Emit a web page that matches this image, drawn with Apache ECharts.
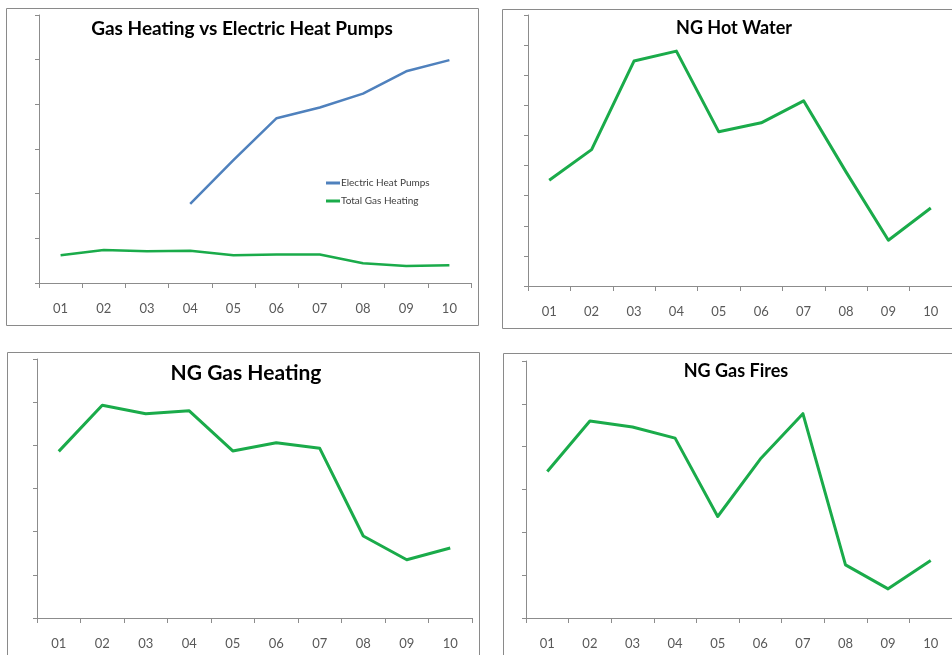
<!DOCTYPE html>
<html>
<head>
<meta charset="utf-8">
<script src="https://cdn.jsdelivr.net/npm/echarts@6/dist/echarts.min.js"></script>
<style>
	html,body{margin:0;padding:0;background:#fff;}
	#page{width:952px;height:655px;}
</style>
</head>
<body>
<div id="page"></div>
<script>
var months = ['01','02','03','04','05','06','07','08','09','10'];
var heatPumps = ['-','-','-',1.77,2.75,3.69,3.93,4.24,4.74,4.99];
var totalGas = [0.62,0.74,0.71,0.72,0.62,0.64,0.64,0.44,0.38,0.40];
var hotWater = [3.51,4.53,7.47,7.80,5.12,5.42,6.15,3.79,1.52,2.59];
var gasHeating = [3.86,4.93,4.73,4.80,3.87,4.06,3.93,1.90,1.35,1.62];
var gasFires = [3.42,4.60,4.46,4.20,2.37,3.71,4.77,1.24,0.68,1.34];
var yMax = [6,9,6,6];

var green = '#1aab4a';
var blue = '#4f81bd';
var font = 'Lato, "Open Sans", sans-serif';

var grids = [
	{left:39, top:15, width:432, height:268},
	{left:528, top:15, width:428, height:271},
	{left:37, top:359, width:435, height:259},
	{left:526, top:361, width:429, height:257}
];

function xAxisFor(i){
	return {
		type:'category', gridIndex:i, data:months, boundaryGap:true,
		axisLine:{lineStyle:{color:'#8c8c8c', width:1}},
		axisTick:{show:true, length:5, lineStyle:{color:'#8c8c8c'}},
		axisLabel:{color:'#595959', fontSize:13, fontFamily:font, margin:19},
		splitLine:{show:false}
	};
}
function yAxisFor(i){
	return {
		type:'value', gridIndex:i, min:0, max:yMax[i], interval:1,
		axisLine:{show:true, lineStyle:{color:'#8c8c8c', width:1}},
		axisTick:{show:true, length:4, lineStyle:{color:'#8c8c8c'}},
		axisLabel:{show:false},
		splitLine:{show:false}
	};
}
function lineFor(name, i, data, color, w){
	return {
		name:name, type:'line', xAxisIndex:i, yAxisIndex:i, data:data,
		symbol:'none', smooth:false, connectNulls:false,
		lineStyle:{color:color, width:w, join:'round'},
		itemStyle:{color:color}
	};
}
function titleFor(text, x, y, size){
	return {
		text:text, left:x, top:y, textAlign:'center',
		textStyle:{fontFamily:font, fontWeight:'bold', fontSize:size, color:'#000'}
	};
}
function frame(x, y, w, h){
	return {type:'rect', shape:{x:x+0.5, y:y+0.5, width:w, height:h}, style:{fill:'none', stroke:'#8a8a8a', lineWidth:1}, silent:true};
}

var chart = echarts.init(document.getElementById('page'));
var option = {
	backgroundColor:'#fff',
	animation:false,
	title:[
		titleFor('Gas Heating vs Electric Heat Pumps', 237, 14, 19),
		titleFor('NG Hot Water', 729, 14, 18),
		titleFor('NG Gas Heating', 241, 358, 21),
		titleFor('NG Gas Fires', 731, 357, 18)
	],
	legend:{
		data:['Electric Heat Pumps','Total Gas Heating'],
		orient:'vertical', left:321, top:173, itemGap:8,
		icon:'rect', itemWidth:14, itemHeight:3,
		textStyle:{fontFamily:font, fontSize:10, color:'#404040', padding:[0,0,0,-4]}
	},
	graphic:[
		frame(6, 8, 472, 317),
		frame(502, 9, 460, 319),
		frame(7, 352, 472, 320),
		frame(503, 353, 460, 320)
	],
	grid:grids,
	xAxis:[xAxisFor(0), xAxisFor(1), xAxisFor(2), xAxisFor(3)],
	yAxis:[yAxisFor(0), yAxisFor(1), yAxisFor(2), yAxisFor(3)],
	series:[
		lineFor('Electric Heat Pumps', 0, heatPumps, blue, 2.5),
		lineFor('Total Gas Heating', 0, totalGas, green, 2.5),
		lineFor('NG Hot Water', 1, hotWater, green, 3),
		lineFor('NG Gas Heating', 2, gasHeating, green, 3),
		lineFor('NG Gas Fires', 3, gasFires, green, 3)
	]
};
chart.setOption(option);
</script>
</body>
</html>
